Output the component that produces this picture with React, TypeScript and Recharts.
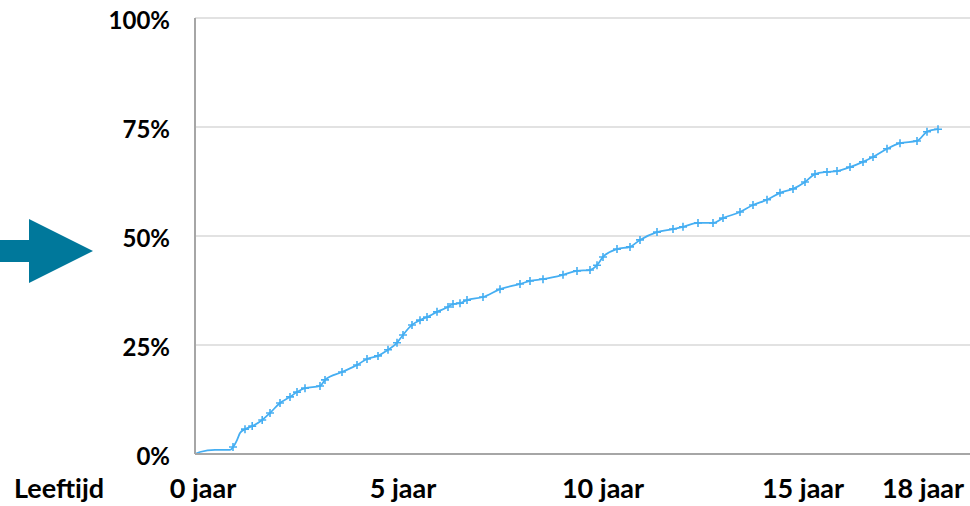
import React from "react";
import { LineChart, Line, XAxis, YAxis, CartesianGrid, Customized } from "recharts";

const ages = [
  0, 0.125, 0.5, 0.875, 0.95, 1.0, 1.05, 1.125, 1.25, 1.43, 1.68, 1.875, 2.125, 2.375, 2.55, 2.75, 3.125, 3.25,
  3.675, 4.05, 4.3, 4.575, 4.825, 5.05, 5.2, 5.425, 5.625, 5.8, 6.05, 6.325, 6.45, 6.625, 6.8, 7.2, 7.625, 8.125, 8.375,
  8.7, 9.2, 9.55, 9.875, 10.05, 10.2, 10.55, 10.875, 11.125, 11.55, 11.95, 12.2, 12.575, 12.95, 13.2,
  13.625, 13.95, 14.3, 14.625, 14.95, 15.25, 15.5, 15.8, 16.05, 16.375, 16.7, 16.95, 17.3, 17.625, 18.05,
  18.3, 18.575,
];
const cumulative = [
  0, 0.46, 0.92, 0.92, 1.6, 2.3, 3.2, 4.8, 5.7, 6.4, 7.8, 9.4, 11.7, 13.1, 14.2, 15.1, 15.6, 17.0,
  18.8, 20.4, 21.8, 22.5, 23.9, 25.5, 27.3, 29.6, 30.7, 31.4, 32.6, 33.7, 34.4, 34.6, 35.3, 36.0, 37.8, 39.0, 39.7,
  40.1, 41.1, 42.0, 42.2, 43.3, 45.2, 47.0, 47.5, 49.1, 50.9, 51.6, 52.1, 53.0, 53.0, 54.1,
  55.5, 57.1, 58.3, 59.9, 60.8, 62.4, 64.2, 64.7, 64.9, 65.8, 67.0, 68.1, 70.0, 71.3, 71.8,
  73.9, 74.5,
];
const censored = [
  0, 0, 0, 0, 1, 0, 0, 0, 1, 1, 1, 1, 1, 1, 1, 1, 1, 1,
  1, 1, 1, 1, 1, 1, 1, 1, 1, 1, 1, 1, 1, 1, 1, 1, 1, 1, 1,
  1, 1, 1, 1, 1, 1, 1, 1, 1, 1, 1, 1, 1, 1, 1,
  1, 1, 1, 1, 1, 1, 1, 1, 1, 1, 1, 1, 1, 1, 1,
  1, 1,
];
const yTicks = [0, 25, 50, 75, 100];
const xTicks = [0, 5, 10, 15, 18];
const xUnit = "jaar";
const xTitle = "Leeftijd";

const data = ages.map((a, i) => ({ age: a, pct: cumulative[i], cens: censored[i] }));

const FONT = "Lato, 'Open Sans', sans-serif";
const LINE = "#45aef2";
const ARROW = "#00789b";

const YTick = (props: any) => {
  const { x, y, payload } = props;
  return (
    <text x={x} y={y + 11} textAnchor="end" fontFamily={FONT} fontWeight={700} fontSize={24} fill="#000">
      {`${payload.value}%`}
    </text>
  );
};

const XTick = (props: any) => {
  const { x, y, payload } = props;
  return (
    <text x={x + 8} y={y + 44} textAnchor="middle" fontFamily={FONT} fontWeight={700} fontSize={27} fill="#000">
      {`${payload.value} ${xUnit}`}
    </text>
  );
};

const CrossDot = (props: any) => {
  const { cx, cy, payload, index } = props;
  if (!payload || !payload.cens || cx == null || cy == null) return <g key={`d${index}`} />;
  return (
    <path
      key={`d${index}`}
      d={`M${cx - 4},${cy}H${cx + 4}M${cx},${cy - 4}V${cy + 4}`}
      stroke={LINE}
      strokeWidth={1.6}
      fill="none"
    />
  );
};

const Decor = (props: any) => {
  const off = props.offset || {};
  const top = off.top ?? 18;
  const h = off.height ?? 436;
  const cy = top + h * 0.5 + 15;
  const bottom = top + h;
  return (
    <g>
      <polygon
        points={`0,${cy - 11} 29,${cy - 11} 29,${cy - 32} 93,${cy} 29,${cy + 32} 29,${cy + 11} 0,${cy + 11}`}
        fill={ARROW}
      />
      <text x={14} y={bottom + 44} fontFamily={FONT} fontWeight={700} fontSize={27} fill="#000">
        {xTitle}
      </text>
    </g>
  );
};

export default function App() {
  return (
    <div style={{ position: "absolute", left: 0, top: 0, width: 970, height: 506, background: "#fff" }}>
      <LineChart width={970} height={506} data={data} margin={{ top: 18, right: 0, bottom: 0, left: 0 }}>
        <CartesianGrid horizontal vertical={false} stroke="#d9d9d9" strokeWidth={1.5} />
        <XAxis
          dataKey="age"
          type="number"
          domain={[0, 19.375]}
          ticks={xTicks}
          height={52}
          tickLine={false}
          tickSize={0}
          tickMargin={0}
          axisLine={{ stroke: "#a6a6a6", strokeWidth: 2 }}
          tick={<XTick />}
          interval={0}
        />
        <YAxis
          type="number"
          domain={[0, 100]}
          ticks={yTicks}
          width={195}
          tickLine={false}
          tickSize={0}
          tickMargin={25}
          axisLine={{ stroke: "#a6a6a6", strokeWidth: 2 }}
          tick={<YTick />}
          interval={0}
        />
        <Line
          type="monotone"
          dataKey="pct"
          stroke={LINE}
          strokeWidth={1.75}
          dot={CrossDot}
          activeDot={false}
          isAnimationActive={false}
        />
        <Customized component={Decor} />
      </LineChart>
    </div>
  );
}
